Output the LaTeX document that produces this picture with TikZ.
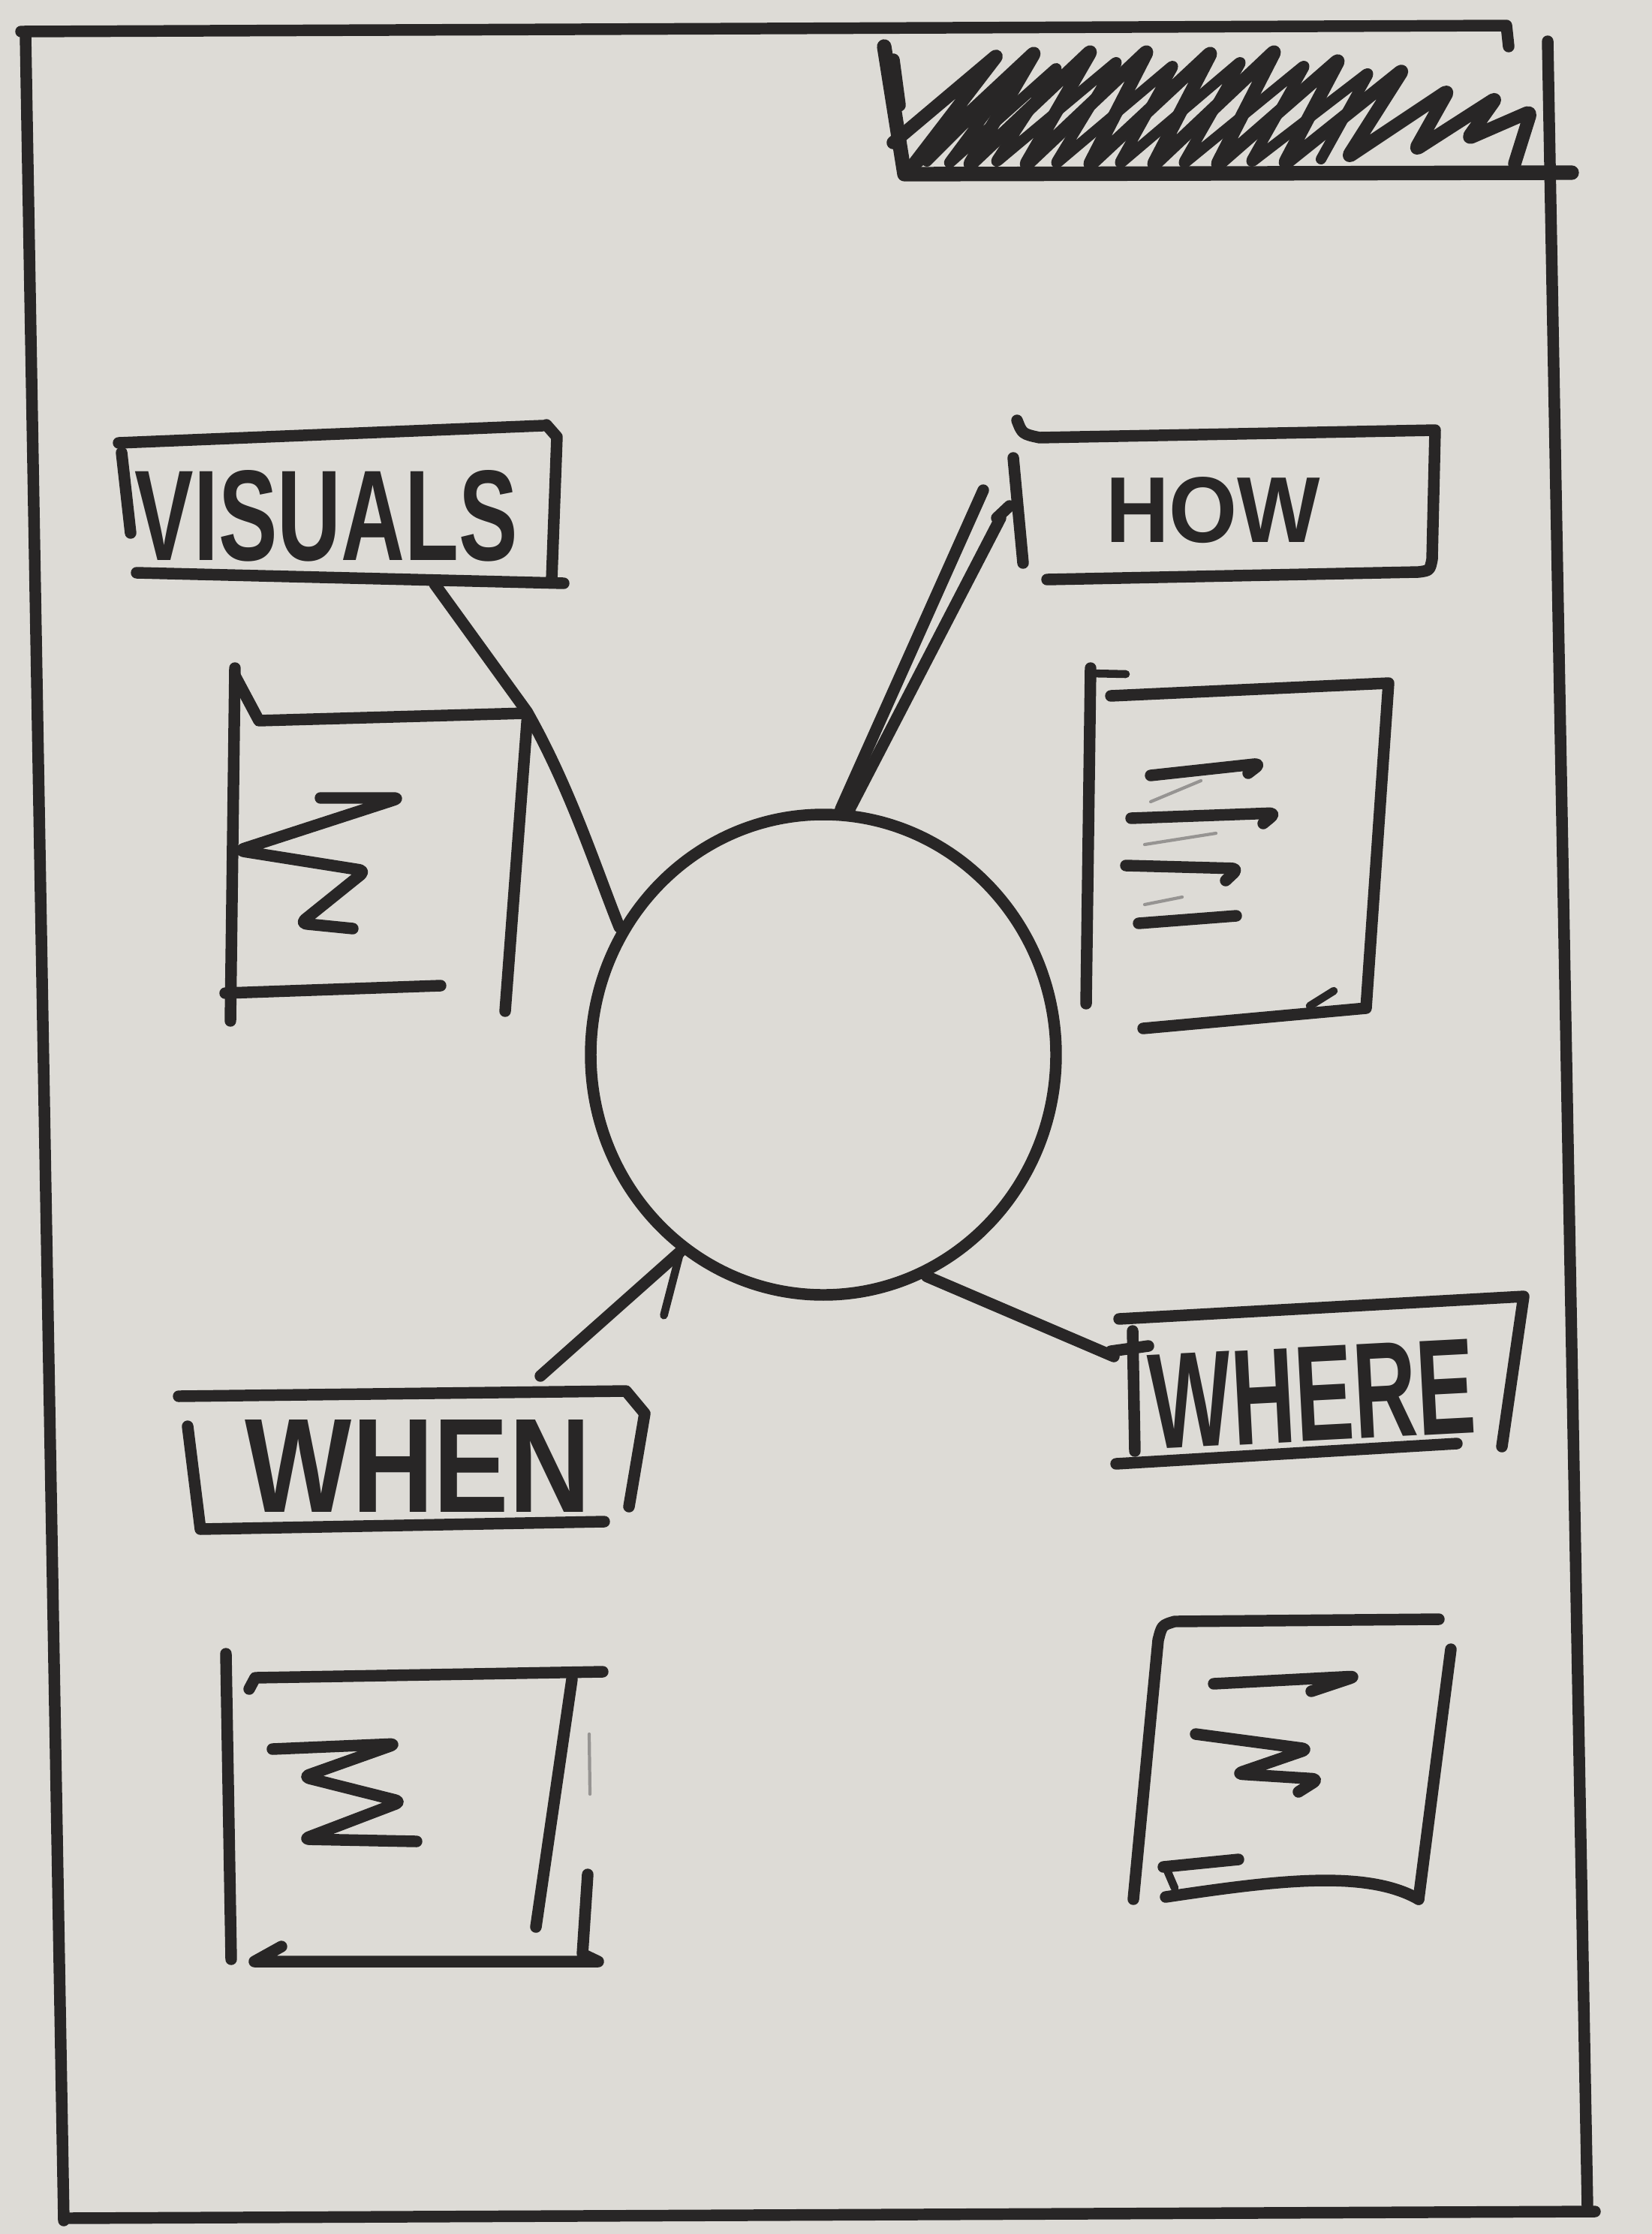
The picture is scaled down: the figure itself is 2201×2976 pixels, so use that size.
\documentclass[tikz,border=0pt]{standalone}
\usepackage{fontspec}
\setmainfont{Liberation Sans}
\usepackage{graphicx}
\usetikzlibrary{shapes.geometric}
\definecolor{paper}{RGB}{221,219,214}
\definecolor{inkc}{RGB}{40,38,38}
\definecolor{faintc}{RGB}{150,148,146}
\begin{document}
\begin{tikzpicture}[x=0.1mm,y=-0.1mm,
  pen/.style={draw=inkc, line width=4.4pt, line cap=round, line join=round},
  thinpen/.style={draw=inkc, line width=3pt, line cap=round, line join=round},
  scribble/.style={pen, rounded corners=2.5pt},
  faint/.style={draw=faintc, line width=1.2pt, line cap=round},
  lbl/.style={inner sep=0pt, text=inkc, font=\bfseries}]
\fill[paper] (0,0) rectangle (2201,2976);
\useasboundingbox (0,0) rectangle (2201,2976);

% page frame
\draw[pen] (28,42) -- (2007,34) -- (2010,62);
\draw[pen] (34,47) -- (85,2958);
\draw[pen] (85,2955) -- (2125,2946);
\draw[pen] (2062,55) -- (2115,2940);

% hatched header box
\draw[pen, line width=5.5pt] (1178,62) -- (1205,232) -- (2094,230);
\draw[pen, line width=5pt, rounded corners=2pt]
  (1190,190) -- (1330,72) -- (1215,222)
  -- (1380,68) -- (1290,222) -- (1455,66) -- (1365,222)
  -- (1530,66) -- (1450,222) -- (1615,68) -- (1535,222)
  -- (1700,66) -- (1620,222) -- (1785,78) -- (1710,220)
  -- (1870,92) -- (1795,210) -- (1930,120) -- (1885,200)
  -- (1994,130) -- (1955,185) -- (2040,148) -- (2018,218);
\draw[pen, line width=4pt, rounded corners=2pt]
  (1235,215) -- (1355,95) -- (1262,220) -- (1410,88) -- (1325,218)
  -- (1490,80) -- (1405,220) -- (1565,85) -- (1490,220)
  -- (1655,80) -- (1575,220) -- (1740,85) -- (1665,218)
  -- (1825,95) -- (1760,212);
\draw[pen, line width=5pt] (1190,80) -- (1198,140);

% centre circle
\node[pen, ellipse, minimum width=62mm, minimum height=64mm, inner sep=0pt] (hub) at (1097,1405) {};

% label texts
\node[lbl] (visuals) at (435,687) {\resizebox{51mm}{12mm}{VISUALS}};
\node[lbl] (how) at (1616,680) {\resizebox{28.6mm}{8.7mm}{HOW}};
\node[lbl] (when) at (557,1953) {\resizebox{46mm}{12.3mm}{WHEN}};
\node[lbl, rotate=3] (where) at (1748,1857) {\resizebox{43.5mm}{12.5mm}{WHERE}};

% label frames
\draw[pen] (158,590) -- (723,567);
\draw[pen] (728,566) -- (742,582) -- (735,773);
\draw[pen] (182,763) -- (751,777);
\draw[pen] (162,603) -- (174,710);

\draw[pen] (1355,560) .. controls (1362,578) .. (1385,583) -- (1912,573) -- (1908,745)
  .. controls (1905,760) .. (1890,762) -- (1395,772);
\draw[pen] (1350,610) -- (1363,750);

\draw[pen] (238,1860) -- (834,1853) -- (859,1883) -- (838,2007);
\draw[pen] (250,1900) -- (267,2037) -- (805,2027);

\draw[pen] (1491,1757) -- (2030,1727) -- (2001,1927);
\draw[pen] (1509,1773) -- (1512,1933);
\draw[pen] (1480,1800) -- (1530,1793);
\draw[pen] (1487,1950) -- (1941,1923);

% image box: top left
\draw[pen] (313,890) -- (307,1360);
\draw[pen] (313,900) -- (345,960) -- (703,950) -- (673,1347);
\draw[pen] (300,1323) -- (587,1313);
\draw[scribble] (427,1063) -- (533,1063) -- (317,1133) -- (487,1160) -- (400,1230) -- (470,1237);

% image box: top right
\draw[pen] (1453,890) -- (1447,1337);
\draw[thinpen] (1453,897) -- (1500,898);
\draw[pen] (1480,927) -- (1850,910) -- (1820,1343) -- (1523,1370);
\draw[thinpen] (1777,1320) -- (1745,1340);
\draw[scribble] (1533,1033) -- (1680,1017) -- (1663,1030);
\draw[scribble] (1507,1090) -- (1700,1083) -- (1683,1097);
\draw[scribble] (1500,1153) -- (1650,1157) -- (1633,1173);
\draw[pen] (1517,1230) -- (1647,1220);
\draw[faint] (1533,1068) -- (1600,1040);
\draw[faint] (1525,1125) -- (1620,1110);
\draw[faint] (1525,1205) -- (1575,1195);

% image box: bottom left
\draw[pen] (301,2203) -- (308,2610);
\draw[pen] (332,2250) -- (340,2235) -- (803,2227);
\draw[pen] (762,2237) -- (714,2567);
\draw[pen] (783,2497) -- (776,2603) -- (797,2613) -- (339,2613) -- (375,2593);
\draw[scribble] (363,2330) -- (528,2323) -- (404,2367) -- (535,2400) -- (404,2450) -- (555,2453);
\draw[faint] (785,2310) -- (786,2390);

% image box: bottom right
\draw[pen] (1510,2530) -- (1543,2185) .. controls (1548,2165) .. (1565,2160) -- (1917,2157);
\draw[pen] (1933,2197) -- (1890,2530);
\draw[pen] (1553,2527) .. controls (1700,2505) and (1820,2490) .. (1890,2530);
\draw[scribble] (1617,2243) -- (1807,2233) -- (1747,2253);
\draw[scribble] (1593,2310) -- (1743,2330) -- (1647,2363) -- (1757,2370) -- (1730,2387);
\draw[pen] (1550,2487) -- (1650,2477);
\draw[thinpen] (1553,2487) -- (1565,2515);

% connectors
\coordinate (visB) at (579,778);
\coordinate (visC) at (702,948);
\draw[pen] (visB) -- (visC) .. controls (760,1050) and (795,1160) .. (hub.148);

\coordinate (howA) at (1310,653);
\coordinate (howB) at (1333,690);
\draw[pen] (howA) -- (hub.86);
\draw[pen] (howB) -- (hub.84);
\draw[pen] (1328,690) -- (1345,674);

\coordinate (whenT) at (720,1833);
\draw[pen] (whenT) -- (hub.234);
\draw[thinpen] (hub.234) -- ++(-22,85);

\coordinate (whereL) at (1484,1807);
\draw[pen] (hub.295) -- (whereL);
\end{tikzpicture}
\end{document}
